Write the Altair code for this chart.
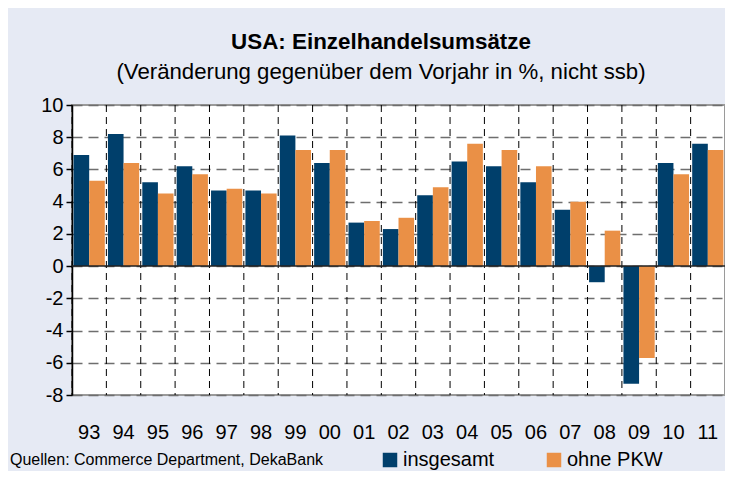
import altair as alt
import pandas as pd

years = ["93", "94", "95", "96", "97", "98", "99", "00", "01", "02",
         "03", "04", "05", "06", "07", "08", "09", "10", "11"]
insgesamt = [6.9, 8.2, 5.2, 6.2, 4.7, 4.7, 8.1, 6.4, 2.7, 2.3,
             4.4, 6.5, 6.2, 5.2, 3.5, -1.0, -7.3, 6.4, 7.6]
ohne_pkw = [5.3, 6.4, 4.5, 5.7, 4.8, 4.5, 7.2, 7.2, 2.8, 3.0,
            4.9, 7.6, 7.2, 6.2, 4.0, 2.2, -5.7, 5.7, 7.2]
series = ["insgesamt", "ohne PKW"]
colors = ["#003F6B", "#EA9046"]
y_ticks = [-8, -6, -4, -2, 0, 2, 4, 6, 8, 10]

title_text = "USA: Einzelhandelsumsätze"
subtitle_text = "(Veränderung gegenüber dem Vorjahr in %, nicht ssb)"
source_text = "Quellen: Commerce Department, DekaBank"

FONT = "Liberation Sans"

rows = []
for i, y in enumerate(years):
    rows.append({"year": y, "series": series[0], "value": insgesamt[i]})
    rows.append({"year": y, "series": series[1], "value": ohne_pkw[i]})
df = pd.DataFrame(rows)

xscale = alt.Scale(domain=years, paddingInner=0, paddingOuter=0)
yscale = alt.Scale(domain=[-8, 10], nice=False, zero=False)

xaxis = alt.Axis(labelAngle=0, ticks=False, tickSize=0, domain=False, grid=False,
                 labelFontSize=20, labelPadding=27, labelColor="black",
                 labelFont=FONT, title=None)
yaxis = alt.Axis(values=y_ticks, grid=True, gridColor="#6e6e6e", gridDash=[10, 6],
                 gridWidth=1.5, domainColor="black", domainWidth=1.5,
                 tickColor="black", tickSize=6, tickWidth=1.5,
                 labelFontSize=20, labelPadding=3, labelColor="black",
                 labelFont=FONT, labelOverlap=False, tickCount=10,
                 labelExpr="'' + datum.value", title=None)

bars = alt.Chart(df).mark_bar().encode(
    x=alt.X("year:N", scale=xscale, title=None, axis=xaxis),
    xOffset=alt.XOffset("series:N", sort=series,
                        scale=alt.Scale(domain=series, paddingInner=0, paddingOuter=0.1)),
    y=alt.Y("value:Q", scale=yscale, title=None, axis=yaxis),
    color=alt.Color("series:N", sort=series,
                    scale=alt.Scale(domain=series, range=colors),
                    legend=alt.Legend(orient="none", legendX=308, legendY=345,
                                      direction="horizontal", title=None,
                                      symbolType="square", symbolSize=210,
                                      symbolStrokeWidth=0, labelFontSize=20,
                                      labelFont=FONT, labelColor="black",
                                      labelOffset=3, columnPadding=49, padding=0)),
)

vrules = alt.Chart(pd.DataFrame({"year": years})).mark_rule(
    color="black", strokeDash=[7, 5], strokeWidth=1
).encode(
    x=alt.X("year:N", scale=xscale, bandPosition=0, title=None, axis=xaxis)
)

zero = alt.Chart(pd.DataFrame({"v": [0]})).mark_rule(color="#222222", strokeWidth=1.5).encode(
    y=alt.Y("v:Q", scale=yscale, title=None, axis=yaxis)
)

one = pd.DataFrame({"a": [0]})
title = alt.Chart(one).mark_text(
    text=title_text, font=FONT, fontSize=22.4, fontWeight="bold", color="black",
    align="center", baseline="middle"
).encode(x=alt.value(309), y=alt.value(-63))
subtitle = alt.Chart(one).mark_text(
    text=subtitle_text, font=FONT, fontSize=22.2, color="black",
    align="center", baseline="middle"
).encode(x=alt.value(309), y=alt.value(-33))
source = alt.Chart(one).mark_text(
    text=source_text, font=FONT, fontSize=16, color="black",
    align="left", baseline="middle"
).encode(x=alt.value(-62), y=alt.value(355))

chart = alt.layer(bars, vrules, zero, title, subtitle, source).properties(
    width=653, height=290,
    padding={"left": 64, "top": 97, "right": 0, "bottom": 76},
    autosize=alt.AutoSizeParams(type="none"),
).configure(
    background="#E6EAF4", font=FONT
).configure_view(
    stroke="#9a9a9a", strokeWidth=2, fill="white"
)

chart.save("out.html", embed_options={"renderer": "svg", "actions": False})
